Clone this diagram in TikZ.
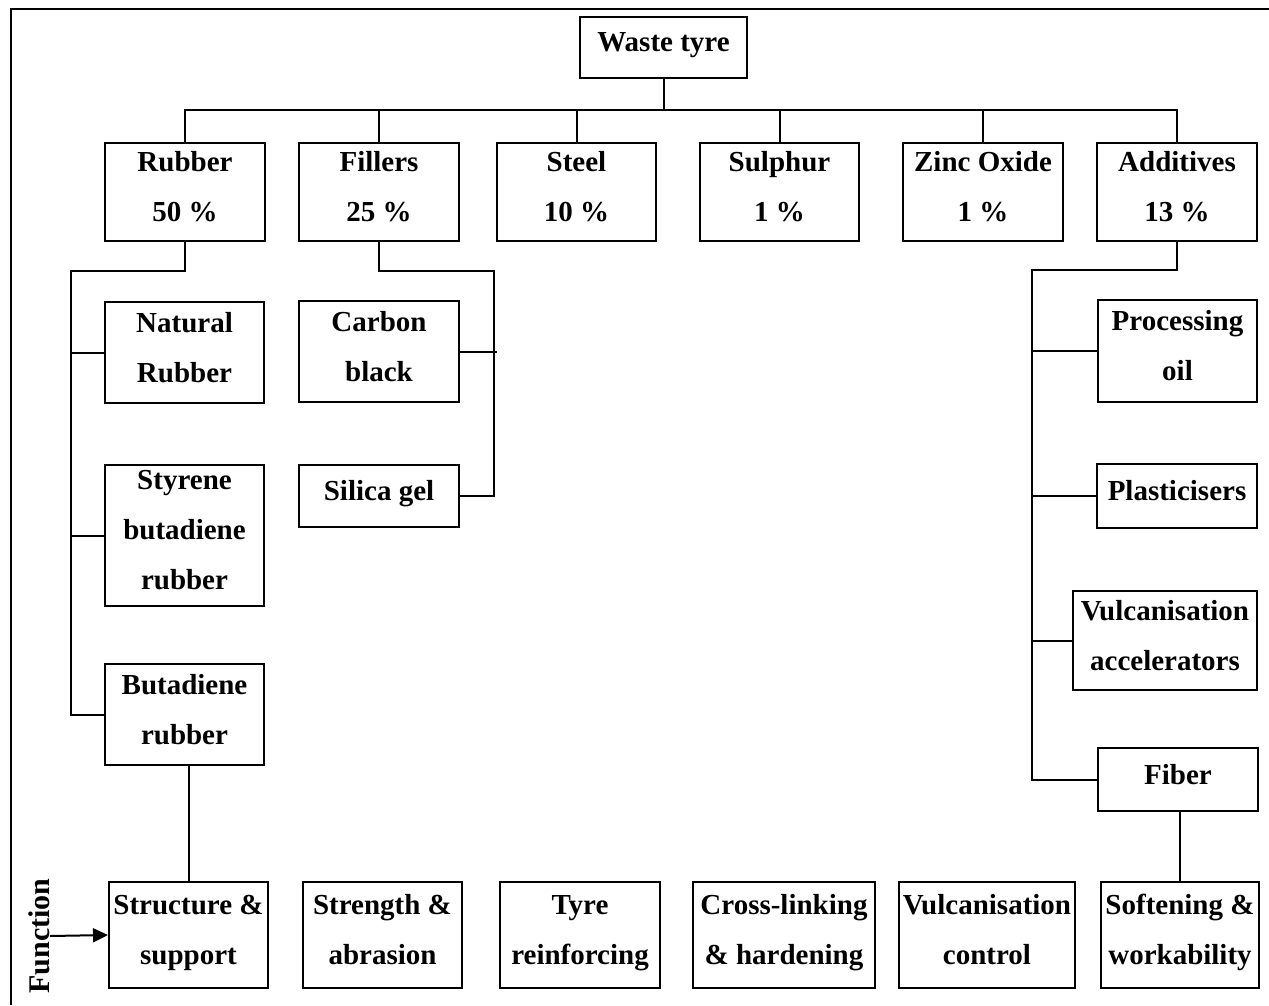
\documentclass[tikz,border=0pt]{standalone}
\usepackage{fontspec}
\setmainfont{Liberation Serif}
\usetikzlibrary{arrows.meta}
\begin{document}
\begin{tikzpicture}[x=1pt,y=-1pt,
  bx/.style={draw,line width=2pt,inner sep=0pt,align=center,text depth=11pt,
    font=\bfseries\fontsize{29}{50}\selectfont},
  conn/.style={line width=2pt},
  lbl/.style={inner sep=0pt,font=\bfseries\fontsize{30}{35}\selectfont},
  arr/.style={line width=2pt,-{Triangle[length=15pt,width=14pt]}}]
\useasboundingbox (0,0) rectangle (1269,1005);
% frame
\draw[line width=2.5pt] (11,1005) -- (11,9) -- (1269,9);
% top
\node[bx,minimum width=167pt,minimum height=61pt] (wt) at (663.5,47.5) {Waste tyre};
\coordinate (bus) at (0,110);
\node[bx,minimum width=160pt,minimum height=98pt] (rub) at (185,192) {Rubber\\50 \%};
\node[bx,minimum width=160pt,minimum height=98pt] (fil) at (379,192) {Fillers\\25 \%};
\node[bx,minimum width=159pt,minimum height=98pt] (ste) at (576.5,192) {Steel\\10 \%};
\node[bx,minimum width=159pt,minimum height=98pt] (sul) at (779.5,192) {Sulphur\\1 \%};
\node[bx,minimum width=160pt,minimum height=98pt] (zin) at (983,192) {Zinc Oxide\\1 \%};
\node[bx,minimum width=160pt,minimum height=98pt] (add) at (1177,192) {Additives\\13 \%};
\draw[conn] (wt.south) -- (wt.south |- bus);
\draw[conn] (rub.north) -- (rub.north |- bus) -| (add.north);
\foreach \n in {fil,ste,sul,zin} \draw[conn] (\n.north) -- (\n.north |- bus);
% rubber subtree
\node[bx,minimum width=159pt,minimum height=101pt] (nr) at (184.5,352.5) {Natural\\Rubber};
\node[bx,minimum width=159pt,minimum height=141pt] (sbr) at (184.5,535.5) {Styrene\\butadiene\\rubber};
\node[bx,minimum width=159pt,minimum height=101pt] (br) at (184.5,714.5) {Butadiene\\rubber};
\coordinate (rj) at (71,271);
\draw[conn] (rub.south) |- (rj) -- (rj |- br.west) -- (br.west);
\draw[conn] (nr.west) -- (nr.west -| rj);
\draw[conn] (sbr.west) -- (sbr.west -| rj);
% fillers subtree
\node[bx,minimum width=160pt,minimum height=101pt] (cb) at (379,351.5) {Carbon\\black};
\node[bx,minimum width=160pt,minimum height=62pt] (sg) at (379,496) {Silica gel};
\coordinate (fj) at (494,271);
\coordinate (fe) at (497,352);
\draw[conn] (fil.south) |- (fj) -- (fj |- sg.east) -- (sg.east);
\draw[conn] (cb.east) -- (cb.east -| fe);
% additives subtree
\node[bx,minimum width=159pt,minimum height=102pt] (po) at (1177.5,351) {Processing\\oil};
\node[bx,minimum width=160pt,minimum height=64pt] (pl) at (1177,496) {Plasticisers};
\node[bx,minimum width=184pt,minimum height=99pt] (va) at (1165,640.5) {Vulcanisation\\accelerators};
\node[bx,minimum width=160pt,minimum height=63pt] (fb) at (1178,779.5) {Fiber};
\coordinate (aj) at (1032,270);
\draw[conn] (add.south) |- (aj) -- (aj |- fb.west) -- (fb.west);
\draw[conn] (po.west) -- (po.west -| aj);
\draw[conn] (pl.west) -- (pl.west -| aj);
\draw[conn] (va.west) -- (va.west -| aj);
% function row
\node[bx,minimum width=159pt,minimum height=106pt] (f1) at (188.5,935) {Structure \&\\support};
\node[bx,minimum width=159pt,minimum height=106pt] (f2) at (382.5,935) {Strength \&\\abrasion};
\node[bx,minimum width=160pt,minimum height=106pt] (f3) at (580,935) {Tyre\\reinforcing};
\node[bx,minimum width=182pt,minimum height=106pt] (f4) at (784,935) {Cross-linking\\\& hardening};
\node[bx,minimum width=176pt,minimum height=106pt] (f5) at (987,935) {Vulcanisation\\control};
\node[bx,minimum width=158pt,minimum height=106pt] (f6) at (1180,935) {Softening \&\\workability};
\draw[conn] (f1.north |- br.south) -- (f1.north);
\draw[conn] (f6.north |- fb.south) -- (f6.north);
\node[lbl,rotate=90] (fn) at (39,936) {Function};
\draw[arr] (fn.south) -- (f1.west);
\end{tikzpicture}
\end{document}
